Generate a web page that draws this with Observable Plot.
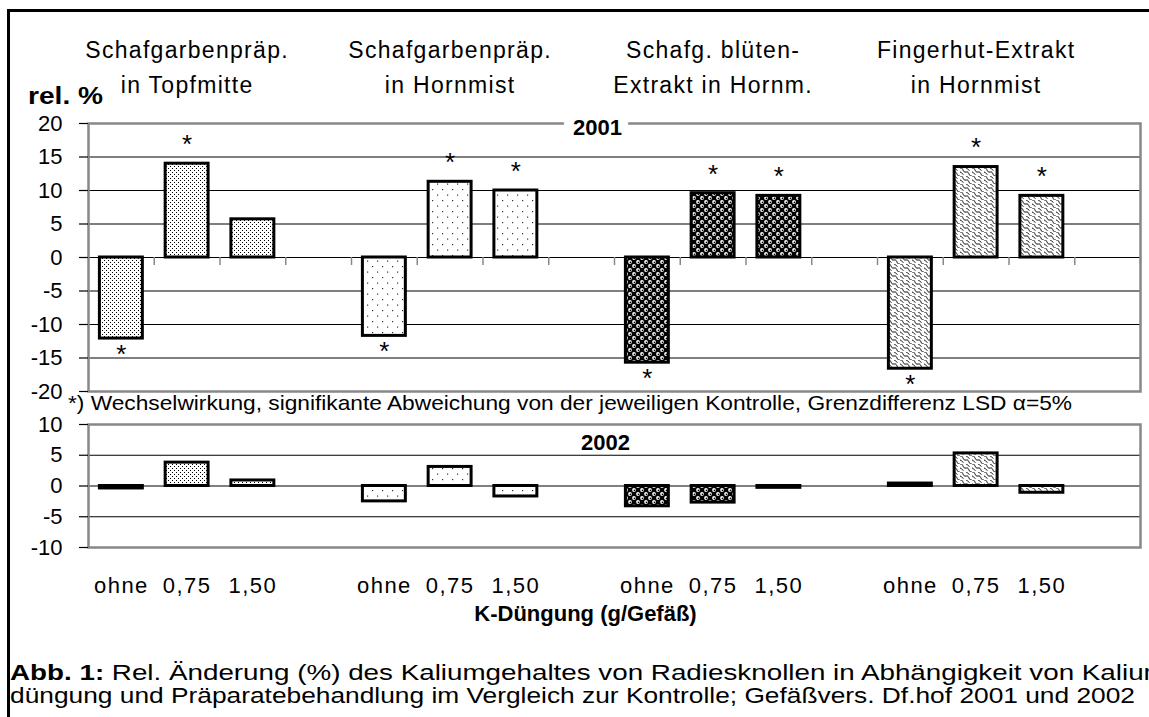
<!DOCTYPE html>
<html><head><meta charset="utf-8">
<script src="https://cdn.jsdelivr.net/npm/d3@7"></script>
<script src="https://cdn.jsdelivr.net/npm/@observablehq/plot@0.6"></script>
<style>
body{margin:0;background:#fff;width:1149px;height:717px;overflow:hidden;position:relative;font-family:"Liberation Sans",Arial,sans-serif;}
#frame{position:absolute;left:7px;top:9px;width:1200px;height:800px;border:3px solid #000;box-sizing:border-box;pointer-events:none}
#top,#bottom{position:absolute;left:0;}
#top{top:0}
#bottom{top:400px}
#overlay{position:absolute;left:0;top:0;pointer-events:none}
</style></head><body>
<svg id="defs" width="0" height="0" style="position:absolute">
<defs>
 <pattern id="pat0" width="4" height="4" patternUnits="userSpaceOnUse">
  <rect width="4" height="4" fill="#fff"/>
  <rect x="0" y="0" width="1" height="1" fill="#000"/>
  <rect x="2" y="2" width="1" height="1" fill="#000"/>
 </pattern>
 <pattern id="pat1" width="10" height="11" patternUnits="userSpaceOnUse">
  <rect width="10" height="11" fill="#fff"/>
  <rect x="2" y="2" width="1.2" height="1.2" fill="#333"/>
  <rect x="7" y="7.5" width="1.2" height="1.2" fill="#333"/>
 </pattern>
 <pattern id="pat2" width="8" height="8" patternUnits="userSpaceOnUse">
  <rect width="8" height="8" fill="#000"/>
  <circle cx="2" cy="2" r="1.9" fill="#fff"/>
  <circle cx="6" cy="6" r="1.9" fill="#fff"/>
  <circle cx="2.4" cy="2.4" r="0.8" fill="#000"/>
  <circle cx="6.4" cy="6.4" r="0.8" fill="#000"/>
 </pattern>
 <pattern id="pat3" width="12" height="8" patternUnits="userSpaceOnUse">
  <rect width="12" height="8" fill="#fff"/>
  <path d="M0,0 C4,-1 2,5 6,4 C10,3 8,9 12,8" fill="none" stroke="#000" stroke-width="0.9"/>
  <path d="M6,0 C8,0 7.5,2 9.5,2.5" fill="none" stroke="#000" stroke-width="0.9"/>
  <path d="M0,4 C2,4 1.5,6 3.5,6.5" fill="none" stroke="#000" stroke-width="0.9"/>
 </pattern>
</defs>
</svg>
<div id="top"></div>
<div id="bottom"></div>
<svg id="overlay" width="1149" height="717" font-family="Liberation Sans, Arial, sans-serif">
 <text x="28" y="104" font-size="23" font-weight="bold" textLength="75" lengthAdjust="spacingAndGlyphs">rel. %</text>
 <text x="68" y="410" font-size="21" textLength="1004" lengthAdjust="spacingAndGlyphs">*) Wechselwirkung, signifikante Abweichung von der jeweiligen Kontrolle, Grenzdifferenz LSD α=5%</text>
 <text id="cap1" x="10" y="680" font-size="21.5" textLength="1166" lengthAdjust="spacingAndGlyphs"><tspan font-weight="bold">Abb. 1:</tspan> Rel. Änderung (%) des Kaliumgehaltes von Radiesknollen in Abhängigkeit von Kalium-</text>
 <text x="10" y="703" font-size="21.5" textLength="1125" lengthAdjust="spacingAndGlyphs">düngung und Präparatebehandlung im Vergleich zur Kontrolle; Gefäßvers. Df.hof 2001 und 2002</text>
</svg>
<div id="frame"></div>
<script>
// ---- data ----
const groupLabels = ["Schafgarbenpräp.\nin Topfmitte", "Schafgarbenpräp.\nin Hornmist", "Schafg. blüten-\nExtrakt in Hornm.", "Fingerhut-Extrakt\nin Hornmist"];
const doses = ["ohne", "0,75", "1,50"];
const values2001 = [
  [-12.1, 14.0, 5.7],
  [-11.7, 11.3, 10.0],
  [-15.7, 9.6, 9.2],
  [-16.6, 13.5, 9.2]
];
const signif2001 = [
  [true, true, false],
  [true, true, true],
  [true, true, true],
  [true, true, true]
];
const values2002 = [
  [-0.4, 3.8, 0.9],
  [-2.5, 3.1, -1.7],
  [-3.3, -2.7, -0.3],
  [0.4, 5.3, -1.1]
];
const yTicks2001 = [20, 15, 10, 5, 0, -5, -10, -15, -20];
const grid2001 = [15, 10, 5, 0, -5, -10, -15];
const yTicks2002 = [10, 5, 0, -5, -10];
const grid2002 = [5, 0, -5];
const years = ["2001", "2002"];
const xTitle = "K-Düngung (g/Gefäß)";

// ---- build rows ----
const rows = [];
groupLabels.forEach((g, gi) => doses.forEach((d, di) => rows.push({
  group: gi, dose: d, slot: gi * 4 + di,
  v2001: values2001[gi][di], v2002: values2002[gi][di], sig: signif2001[gi][di]
})));
const nSlots = groupLabels.length * 4;
const groupsData = groupLabels.map((label, gi) => ({label, mid: gi * 4 + 1.5}));

const W = 1149, ML = 88, MR = 9;
const font = "Liberation Sans, Arial, sans-serif";
const inset = 11.4;
const fmt = d => String(d);

function barMarks(key) {
  return groupLabels.map((_, gi) => Plot.rect(rows.filter(r => r.group === gi), {
    x1: "slot", x2: d => d.slot + 1, y1: () => 0, y2: key,
    insetLeft: inset, insetRight: inset,
    fill: `url(#pat${gi})`, stroke: "#000", strokeWidth: 3
  }));
}

const topPlot = Plot.plot({
  width: W, height: 400, marginLeft: ML, marginRight: MR, marginTop: 123, marginBottom: 9,
  x: {domain: [0, nSlots], axis: null},
  y: {domain: [-20, 20], axis: null, label: null},
  style: {fontFamily: font, fontSize: "22px", color: "#000", background: "transparent", overflow: "visible"},
  marks: [
    Plot.ruleY(grid2001, {stroke: "#000", strokeWidth: 1.2}),
    Plot.frame({stroke: "#888", strokeWidth: 2.5}),
    Plot.axisY({ticks: yTicks2001, tickSize: 9, tickPadding: 17, tickFormat: fmt, fontSize: 22, stroke: "#000", strokeWidth: 1.2, label: null}),
    Plot.ruleX(d3.range(1, nSlots + 1), {x: d => d, y1: () => 0, y2: () => 0, insetBottom: -8, stroke: "#888", strokeWidth: 1.5}),
    ...barMarks("v2001"),
    Plot.text(rows.filter(r => r.sig && r.v2001 > 0), {x: d => d.slot + 0.5, y: "v2001", text: () => "*", dy: -19, fontSize: 26}),
    Plot.text(rows.filter(r => r.sig && r.v2001 < 0), {x: d => d.slot + 0.5, y: "v2001", text: () => "*", dy: 16, fontSize: 26}),
    Plot.text(groupsData, {x: "mid", y: () => 20, text: "label", dy: -59.5, lineHeight: 1.52, fontSize: 23}),
    Plot.text([years[0]], {frameAnchor: "top", lineAnchor: "middle", text: d => d, dx: -17, dy: 4, fontWeight: "bold", fontSize: 22, fill: "#000", stroke: "#fff", strokeWidth: 20})
  ]
});
d3.select(topPlot).selectAll("text").filter(function() { return /Schaf|Finger/.test(this.textContent); }).attr("letter-spacing", "1.3");
document.getElementById("top").appendChild(topPlot);

const bottomPlot = Plot.plot({
  width: W, height: 317, marginLeft: ML, marginRight: MR, marginTop: 24, marginBottom: 170,
  x: {domain: [0, nSlots], axis: null},
  y: {domain: [-10, 10], axis: null, label: null},
  style: {fontFamily: font, fontSize: "22px", color: "#000", background: "transparent", overflow: "visible"},
  marks: [
    Plot.ruleY(grid2002, {stroke: "#000", strokeWidth: 1.2}),
    Plot.frame({stroke: "#888", strokeWidth: 2.5}),
    Plot.axisY({ticks: yTicks2002, tickSize: 9, tickPadding: 17, tickFormat: fmt, fontSize: 22, stroke: "#000", strokeWidth: 1.2, label: null}),
    ...barMarks("v2002"),
    Plot.text([years[1]], {frameAnchor: "top", lineAnchor: "middle", text: d => d, dx: -9, dy: 18, fontWeight: "bold", fontSize: 22}),
    Plot.text(rows, {x: d => d.slot + 0.5, frameAnchor: "bottom", lineAnchor: "middle", text: "dose", dy: 38, fontSize: 22}),
    Plot.text([xTitle], {frameAnchor: "bottom", lineAnchor: "middle", text: d => d, dx: -29, dy: 66, fontWeight: "bold", fontSize: 22})
  ]
});
d3.select(bottomPlot).selectAll("text").filter(function() { return /^(ohne|0,75|1,50)$/.test(this.textContent); }).attr("letter-spacing", "1.5");
document.getElementById("bottom").appendChild(bottomPlot);
</script>
</body></html>
